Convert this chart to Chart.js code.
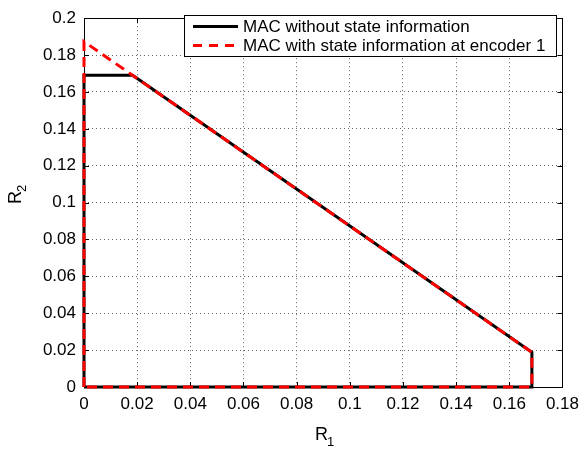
<!DOCTYPE html>
<html>
<head>
<meta charset="utf-8">
<script src="https://cdn.jsdelivr.net/npm/chart.js@4/dist/chart.umd.min.js"></script>
<style>
html,body{margin:0;padding:0;background:#fff;}
#wrap{width:586px;height:449px;}
</style>
</head>
<body>
<div id="wrap"><canvas id="c" width="586" height="449"></canvas></div>
<script>
const seriesNames = ['MAC without state information', 'MAC with state information at encoder 1'];
const r1Without = [0, 0, 0.0183, 0.1685, 0.1685, 0];
const r2Without = [0, 0.169, 0.169, 0.0188, 0, 0];
const r1With = [0, 0, 0.1685, 0.1685, 0];
const r2With = [0, 0.1873, 0.0188, 0, 0];
const xTicks = [0, 0.02, 0.04, 0.06, 0.08, 0.1, 0.12, 0.14, 0.16, 0.18];
const yTicks = [0, 0.02, 0.04, 0.06, 0.08, 0.1, 0.12, 0.14, 0.16, 0.18, 0.2];

const FONT = 'Liberation Sans, Arial, sans-serif';
const toPts = (xs, ys) => xs.map((x, i) => ({x: x, y: ys[i]}));
const fmt = v => String(+v.toFixed(4));

const framePlugin = {
  id: 'frame',
  beforeDatasetsDraw(chart) {
    const ctx = chart.ctx, a = chart.chartArea;
    const xs = chart.scales.x, ys = chart.scales.y;
    ctx.save();
    ctx.strokeStyle = '#000';
    ctx.lineWidth = 1;
    ctx.setLineDash([]);
    ctx.strokeRect(Math.round(a.left) + 0.5, Math.round(a.top) + 0.5, Math.round(a.right - a.left), Math.round(a.bottom - a.top));
    const tl = 5;
    ctx.beginPath();
    xTicks.forEach(v => {
      const px = Math.round(xs.getPixelForValue(v)) + 0.5;
      ctx.moveTo(px, a.bottom); ctx.lineTo(px, a.bottom - tl);
      ctx.moveTo(px, a.top); ctx.lineTo(px, a.top + tl);
    });
    yTicks.forEach(v => {
      const py = Math.round(ys.getPixelForValue(v)) + 0.5;
      ctx.moveTo(a.left, py); ctx.lineTo(a.left + tl, py);
      ctx.moveTo(a.right, py); ctx.lineTo(a.right - tl, py);
    });
    ctx.stroke();
    ctx.restore();
  },
  afterDatasetsDraw(chart) {
    const ctx = chart.ctx;
    ctx.save();
    ctx.lineWidth = 1;
    ctx.strokeStyle = '#000';
    // legend
    const bx = 184.5, by = 15.5, bw = 372, bh = 41;
    ctx.fillStyle = '#fff';
    ctx.fillRect(bx, by, bw, bh);
    ctx.strokeRect(bx, by, bw, bh);
    ctx.font = '17px ' + FONT;
    ctx.fillStyle = '#000';
    ctx.textBaseline = 'middle';
    ctx.textAlign = 'left';
    const rows = [26.5, 45.5];
    ctx.lineWidth = 3;
    ctx.strokeStyle = '#000';
    ctx.beginPath(); ctx.moveTo(193, rows[0]); ctx.lineTo(238, rows[0]); ctx.stroke();
    ctx.strokeStyle = '#ff0000';
    ctx.setLineDash([9, 7]);
    ctx.beginPath(); ctx.moveTo(193, rows[1]); ctx.lineTo(239, rows[1]); ctx.stroke();
    ctx.setLineDash([]);
    ctx.fillText(seriesNames[0], 243, rows[0] + 1);
    ctx.fillText(seriesNames[1], 243, rows[1] + 1);

    // axis titles with subscripts
    ctx.textBaseline = 'alphabetic';
    ctx.font = '18px ' + FONT;
    ctx.fillText('R', 315, 440);
    ctx.font = '13px ' + FONT;
    ctx.fillText('1', 327, 446);
    ctx.save();
    ctx.translate(21, 204);
    ctx.rotate(-Math.PI / 2);
    ctx.font = '18px ' + FONT;
    ctx.fillText('R', 0, 0);
    ctx.font = '13px ' + FONT;
    ctx.fillText('2', 12, 5);
    ctx.restore();
    ctx.restore();
  }
};

new Chart(document.getElementById('c'), {
  type: 'scatter',
  data: {
    datasets: [
      {
        label: seriesNames[1],
        data: toPts(r1With, r2With),
        showLine: true,
        borderColor: '#ff0000',
        borderWidth: 3,
        borderDash: [10, 6],
        pointRadius: 0,
        fill: false,
        tension: 0,
        clip: false,
        order: 0
      },
      {
        label: seriesNames[0],
        data: toPts(r1Without, r2Without),
        showLine: true,
        borderColor: '#000000',
        borderWidth: 3,
        pointRadius: 0,
        fill: false,
        tension: 0,
        clip: false,
        order: 1
      }
    ]
  },
  options: {
    responsive: false,
    animation: false,
    events: [],
    layout: {padding: {top: 9, right: 22, left: 0, bottom: 0}},
    plugins: {legend: {display: false}, tooltip: {enabled: false}},
    scales: {
      x: {
        type: 'linear', min: 0, max: 0.18,
        afterBuildTicks: s => { s.ticks = xTicks.map(v => ({value: v})); },
        afterFit: s => { s.height = 62; },
        ticks: {callback: v => fmt(v), color: '#000', font: {family: FONT, size: 17}, padding: 7, maxRotation: 0, autoSkip: false},
        grid: {color: '#666', lineWidth: 1, drawTicks: false, tickLength: 0},
        border: {display: false, dash: [1, 3]}
      },
      y: {
        type: 'linear', min: 0, max: 0.2,
        afterBuildTicks: s => { s.ticks = yTicks.map(v => ({value: v})); },
        afterFit: s => { s.width = 84; },
        ticks: {callback: v => fmt(v), color: '#000', font: {family: FONT, size: 17}, padding: 8, autoSkip: false},
        grid: {color: '#666', lineWidth: 1, drawTicks: false, tickLength: 0},
        border: {display: false, dash: [1, 3]}
      }
    }
  },
  plugins: [framePlugin]
});
</script>
</body>
</html>
